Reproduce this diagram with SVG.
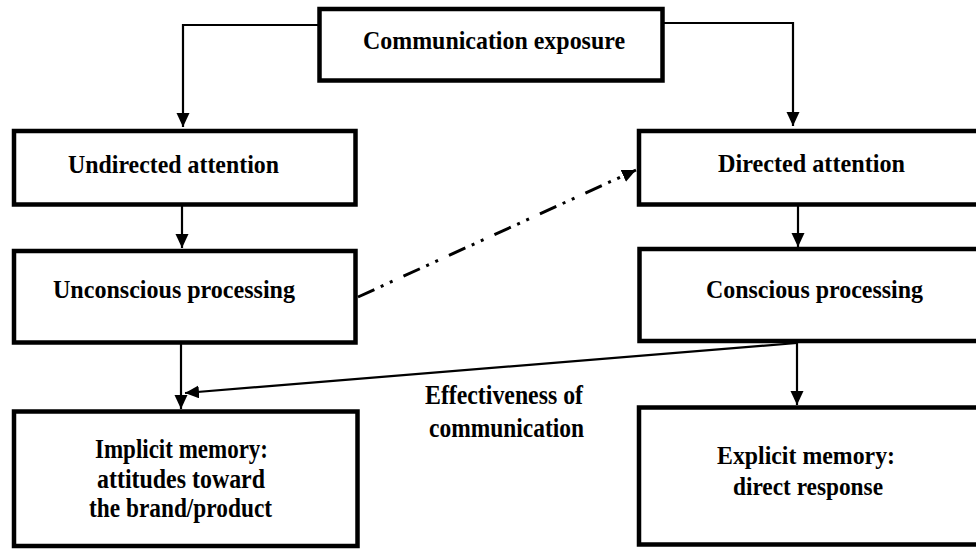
<svg xmlns="http://www.w3.org/2000/svg" width="976" height="551" viewBox="0 0 976 551">
  <style>
    .box { fill: #fff; stroke: #000; stroke-width: 4.5; }
    .t { font-family: "Liberation Serif", "Times New Roman", serif; font-weight: bold; fill: #000; }
    .t25 { font-size: 25px; }
    .t28 { font-size: 28px; }
    .t26 { font-size: 26px; }
    .c { fill: none; stroke: #000; stroke-width: 2.2; }
    .dd { fill: none; stroke: #000; stroke-width: 3; stroke-dasharray: 18 7 3 7 3 12; }
  </style>
  <defs>
    <marker id="ah" markerUnits="userSpaceOnUse" markerWidth="15" markerHeight="14" refX="14" refY="6.5" orient="auto" viewBox="0 0 15 14">
      <path d="M0,0 L14,6.5 L0,13 z" fill="#000"/>
    </marker>
  </defs>
  <rect width="976" height="551" fill="#fff"/>
  <g id="connectors">
    <path class="c" d="M319,25 H183 V127" marker-end="url(#ah)"/>
    <path class="c" d="M662,23 H793 V126" marker-end="url(#ah)"/>
    <path class="c" d="M182,206 V248" marker-end="url(#ah)"/>
    <path class="c" d="M798,206 V247" marker-end="url(#ah)"/>
    <path class="c" d="M181,344 V409" marker-end="url(#ah)"/>
    <path class="c" d="M797,343 V405" marker-end="url(#ah)"/>
    <path class="c" d="M797,343 L185,393" marker-end="url(#ah)"/>
    <path class="dd" d="M358,297 L636,170" marker-end="url(#ah)"/>
  </g>
  <g id="communication-exposure">
    <rect class="box" x="319.5" y="9" width="343" height="71.5"/>
    <text class="t t25" x="363" y="49" textLength="262" lengthAdjust="spacingAndGlyphs">Communication exposure</text>
  </g>
  <g id="undirected-attention">
    <rect class="box" x="14" y="131" width="341.5" height="73.5"/>
    <text class="t t25" x="68" y="173" textLength="211" lengthAdjust="spacingAndGlyphs">Undirected attention</text>
  </g>
  <g id="unconscious-processing">
    <rect class="box" x="14" y="251" width="341.5" height="91.5"/>
    <text class="t t25" x="53" y="298" textLength="242" lengthAdjust="spacingAndGlyphs">Unconscious processing</text>
  </g>
  <g id="directed-attention">
    <rect class="box" x="639" y="131" width="346" height="73.5"/>
    <text class="t t25" x="718" y="172" textLength="187" lengthAdjust="spacingAndGlyphs">Directed attention</text>
  </g>
  <g id="conscious-processing">
    <rect class="box" x="639.5" y="249" width="346" height="92"/>
    <text class="t t25" x="706" y="298" textLength="217" lengthAdjust="spacingAndGlyphs">Conscious processing</text>
  </g>
  <g id="implicit-memory">
    <rect class="box" x="14" y="411.5" width="343.5" height="134.5"/>
    <text class="t t28" x="95" y="458" textLength="173" lengthAdjust="spacingAndGlyphs">Implicit memory:</text>
    <text class="t t28" x="97" y="487.5" textLength="168" lengthAdjust="spacingAndGlyphs">attitudes toward</text>
    <text class="t t28" x="89" y="517" textLength="183" lengthAdjust="spacingAndGlyphs">the brand/product</text>
  </g>
  <g id="explicit-memory">
    <rect class="box" x="639" y="407.5" width="346" height="137"/>
    <text class="t t26" x="717" y="463.5" textLength="178" lengthAdjust="spacingAndGlyphs">Explicit memory:</text>
    <text class="t t26" x="733" y="495" textLength="150" lengthAdjust="spacingAndGlyphs">direct response</text>
  </g>
  <g id="effectiveness-label">
    <text class="t t28" x="425" y="404" textLength="158" lengthAdjust="spacingAndGlyphs">Effectiveness of</text>
    <text class="t t28" x="429" y="437" textLength="155" lengthAdjust="spacingAndGlyphs">communication</text>
  </g>
</svg>
